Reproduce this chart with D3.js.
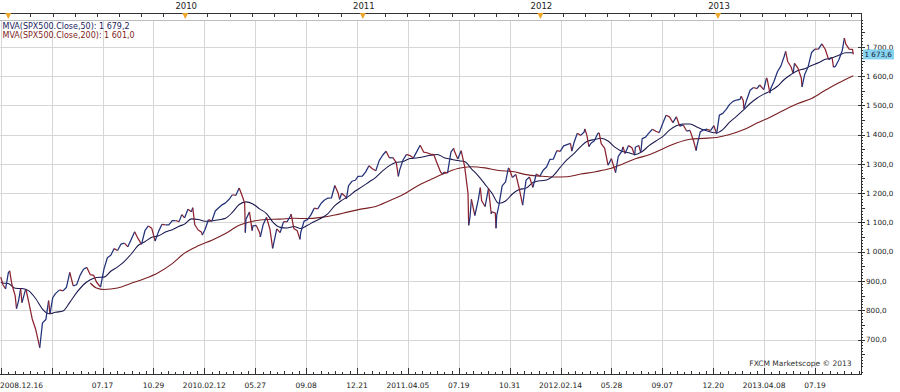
<!DOCTYPE html>
<html><head><meta charset="utf-8">
<script src="https://cdn.jsdelivr.net/npm/d3@7/dist/d3.min.js"></script>
<style>
body{margin:0;background:#fff;}
svg{display:block;font-family:"DejaVu Sans",Verdana,sans-serif;}
</style>
</head><body>
<svg id="chart" width="900" height="392"></svg>
<script>
// ---------------- DATA (SPX500 price) ----------------
const price2008 = [["12-16",913.2],["12-19",887.9],["12-26",872.8]];
const price2009 = [["01-02",927.5],["01-06",934.7],["01-09",890.4],["01-16",850.1],["01-20",805.2],["01-23",832.0],["01-28",874.1],["01-30",825.9],["02-06",868.6],["02-09",869.9],["02-13",826.8],["02-20",770.1],["02-27",735.1],["03-06",683.4],["03-09",672.0],["03-13",756.6],["03-20",768.5],["03-26",832.9],["03-30",787.5],["04-03",842.5],["04-09",856.6],["04-17",869.6],["04-24",866.2],["05-01",877.5],["05-08",929.2],["05-15",882.9],["05-22",887.0],["05-29",919.1],["06-05",940.1],["06-12",946.2],["06-19",921.2],["06-26",918.9],["07-02",896.4],["07-10",879.1],["07-17",940.4],["07-24",979.3],["07-31",987.5],["08-07",1010.5],["08-14",1004.1],["08-21",1026.1],["08-28",1028.9],["09-04",1016.4],["09-11",1042.7],["09-18",1068.3],["09-25",1044.4],["10-02",1025.2],["10-09",1071.5],["10-16",1087.7],["10-23",1079.6],["10-30",1036.2],["11-06",1069.3],["11-13",1093.5],["11-20",1091.4],["11-27",1091.5],["12-04",1106.0],["12-11",1106.4],["12-18",1102.5],["12-24",1126.5],["12-31",1115.1]];
const price2010 = [["01-08",1145.0],["01-15",1136.0],["01-19",1150.2],["01-22",1091.8],["01-29",1073.9],["02-05",1066.2],["02-08",1056.7],["02-12",1075.5],["02-19",1109.2],["02-26",1104.5],["03-05",1138.7],["03-12",1150.0],["03-19",1159.9],["03-26",1166.6],["04-02",1178.1],["04-09",1194.4],["04-16",1192.1],["04-23",1217.3],["04-30",1186.7],["05-05",1165.9],["05-06",1065.0],["05-07",1110.9],["05-14",1135.7],["05-20",1071.6],["05-21",1087.7],["05-28",1089.4],["06-04",1064.9],["06-07",1050.5],["06-11",1091.6],["06-18",1117.5],["06-25",1076.8],["07-01",1011.0],["07-02",1022.6],["07-09",1078.0],["07-16",1064.9],["07-23",1102.7],["07-30",1101.6],["08-06",1121.6],["08-09",1127.8],["08-13",1079.3],["08-20",1071.7],["08-26",1042.0],["08-27",1064.6],["09-03",1104.5],["09-10",1109.6],["09-17",1125.6],["09-24",1148.7],["10-01",1146.1],["10-08",1165.2],["10-15",1176.2],["10-22",1183.1],["10-29",1183.3],["11-05",1225.9],["11-12",1199.2],["11-16",1178.3],["11-19",1199.7],["11-26",1189.4],["11-30",1180.6],["12-03",1224.7],["12-10",1240.4],["12-17",1243.9],["12-23",1256.8],["12-31",1257.6]];
const price2011 = [["01-07",1271.5],["01-14",1293.2],["01-21",1283.4],["01-28",1276.3],["02-04",1310.9],["02-11",1329.2],["02-18",1343.0],["02-25",1319.9],["03-04",1321.2],["03-11",1304.3],["03-16",1256.9],["03-18",1279.2],["03-25",1313.8],["04-01",1332.4],["04-08",1328.2],["04-15",1319.7],["04-21",1337.4],["04-29",1363.6],["05-06",1340.2],["05-13",1337.8],["05-20",1333.3],["05-27",1331.1],["06-03",1300.2],["06-10",1271.0],["06-15",1265.4],["06-17",1271.5],["06-24",1268.5],["07-01",1339.7],["07-07",1353.2],["07-08",1343.8],["07-15",1316.1],["07-22",1345.0],["07-29",1292.3],["08-05",1199.4],["08-08",1090.0],["08-10",1120.8],["08-12",1178.8],["08-19",1123.5],["08-26",1176.8],["08-31",1218.9],["09-02",1174.0],["09-09",1154.2],["09-16",1216.0],["09-22",1129.6],["09-23",1136.4],["09-30",1131.4],["10-03",1080.0],["10-04",1123.9],["10-07",1155.5],["10-14",1224.6],["10-21",1238.3],["10-27",1284.6],["10-28",1285.1],["11-04",1253.2],["11-11",1263.9],["11-18",1215.7],["11-25",1158.7],["12-02",1244.3],["12-09",1255.2],["12-16",1219.7],["12-23",1265.3],["12-30",1257.6]];
const price2012 = [["01-06",1277.8],["01-13",1289.1],["01-20",1315.4],["01-27",1316.3],["02-03",1344.9],["02-10",1342.6],["02-17",1361.2],["02-24",1365.7],["03-02",1370.0],["03-06",1343.4],["03-09",1370.9],["03-16",1404.2],["03-23",1397.1],["03-30",1408.5],["04-02",1419.0],["04-05",1398.1],["04-10",1358.6],["04-13",1370.3],["04-20",1378.5],["04-27",1403.4],["05-01",1405.8],["05-04",1369.1],["05-11",1353.4],["05-18",1295.2],["05-25",1317.8],["06-01",1278.0],["06-04",1270.0],["06-08",1325.7],["06-15",1342.8],["06-19",1357.9],["06-22",1335.0],["06-29",1362.2],["07-06",1354.7],["07-12",1329.5],["07-13",1356.8],["07-20",1362.7],["07-25",1337.9],["07-27",1386.0],["08-03",1391.0],["08-10",1405.9],["08-17",1418.2],["08-24",1411.1],["08-31",1406.6],["09-07",1437.9],["09-14",1465.8],["09-21",1460.2],["09-28",1440.7],["10-05",1460.9],["10-12",1428.6],["10-19",1433.2],["10-26",1411.9],["11-02",1414.2],["11-09",1379.9],["11-15",1345.0],["11-16",1359.9],["11-23",1409.2],["11-30",1416.2],["12-07",1418.1],["12-14",1413.6],["12-21",1430.2],["12-28",1402.4]];
const price2013 = [["01-04",1466.5],["01-11",1472.1],["01-18",1486.0],["01-25",1503.0],["02-01",1513.2],["02-08",1517.9],["02-15",1519.8],["02-19",1530.9],["02-22",1515.6],["02-25",1487.9],["03-01",1518.2],["03-08",1551.2],["03-15",1560.7],["03-22",1556.9],["03-28",1569.2],["04-05",1553.3],["04-11",1593.4],["04-12",1588.9],["04-18",1541.6],["04-19",1555.3],["04-26",1582.2],["05-03",1614.4],["05-10",1633.7],["05-17",1667.5],["05-21",1684.0],["05-24",1649.6],["05-31",1630.7],["06-05",1608.9],["06-07",1643.4],["06-14",1626.7],["06-21",1592.4],["06-24",1563.0],["06-28",1606.3],["07-05",1631.9],["07-12",1680.2],["07-19",1692.1],["07-26",1691.7],["08-02",1709.7],["08-09",1691.4],["08-16",1655.8],["08-23",1663.5],["08-27",1630.5],["08-30",1633.0],["09-06",1655.2],["09-13",1688.0],["09-18",1729.0],["09-20",1709.9],["09-27",1691.8],["10-04",1690.5],["10-07",1673.6]];

// 50-period moving average (navy)
const ma50_2008 = [["12-16",895],["12-19",893]];
const ma50_2009 = [["01-02",891],["01-16",875],["01-30",874],["02-13",866],["02-27",840],["03-13",804],["03-27",788],["04-09",793],["04-24",797],["05-08",827],["05-22",860],["06-05",887],["06-19",904],["07-02",912],["07-17",913],["07-31",933],["08-14",948],["08-28",967],["09-11",992],["09-25",1021],["10-09",1034],["10-23",1049],["11-06",1054],["11-20",1067],["12-04",1075],["12-18",1087],["12-31",1094]];
const ma50_2010 = [["01-15",1112],["01-29",1110],["02-12",1104],["02-26",1105],["03-12",1109],["03-26",1114],["04-09",1134],["04-23",1161],["05-07",1170],["05-21",1163],["06-04",1146],["06-18",1130],["07-02",1099],["07-16",1083],["07-30",1081],["08-13",1086],["08-27",1079],["09-10",1090],["09-24",1103],["10-08",1114],["10-22",1130],["11-05",1157],["11-19",1175],["12-03",1189],["12-17",1207],["12-31",1222]];
const ma50_2011 = [["01-14",1238],["01-28",1254],["02-11",1276],["02-25",1294],["03-11",1305],["03-25",1308],["04-08",1318],["04-21",1320],["05-06",1324],["05-20",1329],["06-03",1332],["06-17",1321],["07-01",1316],["07-15",1311],["07-29",1308],["08-12",1283],["08-26",1259],["09-09",1230],["09-23",1200],["10-07",1165],["10-21",1173],["11-04",1197],["11-18",1212],["12-02",1217],["12-16",1236],["12-30",1242]];
const ma50_2012 = [["01-13",1245],["01-27",1260],["02-10",1288],["02-24",1314],["03-09",1335],["03-23",1359],["04-05",1376],["04-20",1383],["05-04",1387],["05-18",1378],["06-01",1357],["06-15",1343],["06-29",1338],["07-13",1332],["07-27",1342],["08-10",1362],["08-24",1378],["09-07",1393],["09-21",1415],["10-05",1430],["10-19",1436],["11-02",1436],["11-16",1426],["11-30",1416],["12-14",1409],["12-28",1406]];
const ma50_2013 = [["01-11",1417],["01-25",1442],["02-08",1462],["02-22",1483],["03-08",1506],["03-22",1524],["04-05",1538],["04-19",1549],["05-03",1565],["05-17",1588],["05-31",1605],["06-14",1619],["06-28",1625],["07-12",1636],["07-26",1645],["08-09",1657],["08-23",1662],["09-06",1671],["09-20",1679],["10-07",1679.2]];

// 200-period moving average (dark red)
const ma200_2009 = [["06-19",893],["07-02",876],["07-17",871],["08-14",876],["09-11",892],["10-09",908],["11-06",929],["12-04",959],["12-31",995]];
const ma200_2010 = [["01-29",1020],["02-26",1039],["03-26",1062],["04-23",1090],["05-21",1104],["06-18",1110],["07-16",1111],["08-13",1114],["09-10",1113],["10-08",1117],["11-05",1125],["12-03",1136],["12-31",1146]];
const ma200_2011 = [["01-28",1154],["02-25",1174],["03-25",1195],["04-21",1222],["05-20",1246],["06-17",1267],["07-15",1284],["08-12",1290],["09-09",1286],["10-07",1277],["11-04",1274],["12-02",1263],["12-30",1258]];
const ma200_2012 = [["01-27",1255],["02-24",1256],["03-23",1265],["04-20",1272],["05-18",1282],["06-15",1298],["07-13",1317],["08-10",1331],["09-07",1351],["10-05",1371],["11-02",1384],["11-30",1387],["12-28",1390]];
const ma200_2013 = [["01-25",1400],["02-22",1416],["03-22",1439],["04-19",1460],["05-17",1484],["06-14",1506],["07-12",1523],["08-09",1551],["09-06",1577],["10-07",1601]];

// axis texts
const bottomLabels = ["2008.12.16","","07.17","10.29","2010.02.12","05.27","09.08","12.21","2011.04.05","07.19","10.31","2012.02.14","05.28","09.07","12.20","2013.04.08","07.19"];
const bottomFirstDate = "2008-12-16", bottomLastDate = "2013-07-19";
const years = ["2009","2010","2011","2012","2013"];
const yearShown = [false,true,true,true,true];
const yTicks = [700,800,900,1000,1100,1200,1300,1400,1500,1600,1700];
const lastPrice = 1673.6;
const legendItems = [
  {text:"MVA(SPX500.Close,50): 1 679,2", color:"#1c1c5e"},
  {text:"MVA(SPX500.Close,200): 1 601,0", color:"#7e1d1d"}
];
const creditText = "FXCM Marketscope \u00A9 2013";

// ---------------- LAYOUT ----------------
const W = 900, H = 392;
const plot = {left:0, right:861, top:20, bottom:374};
const svg = d3.select("#chart");

// bar index (trading sessions: weekdays without Dec 25 / Jan 1)
const barOf = new Map();
(function(){
  let n = 0; const d = new Date(Date.UTC(2008,11,16)); const end = Date.UTC(2014,1,28);
  while (d.getTime() <= end) {
    const wd = d.getUTCDay(), m = d.getUTCMonth(), dd = d.getUTCDate();
    const hol = (m===11 && dd===25) || (m===0 && dd===1);
    if (wd!==0 && wd!==6 && !hol) { barOf.set(d.toISOString().slice(0,10), n); n++; }
    d.setUTCDate(d.getUTCDate()+1);
  }
})();
function toPts(year, arr){ return arr.map(([md,v]) => ({b: barOf.get(year+"-"+md), v})); }
const price = [].concat(toPts(2008,price2008),toPts(2009,price2009),toPts(2010,price2010),toPts(2011,price2011),toPts(2012,price2012),toPts(2013,price2013));
const ma50 = [].concat(toPts(2008,ma50_2008),toPts(2009,ma50_2009),toPts(2010,ma50_2010),toPts(2011,ma50_2011),toPts(2012,ma50_2012),toPts(2013,ma50_2013));
const ma200 = [].concat(toPts(2009,ma200_2009),toPts(2010,ma200_2010),toPts(2011,ma200_2011),toPts(2012,ma200_2012),toPts(2013,ma200_2013));

const x = d3.scaleLinear().domain([barOf.get(bottomFirstDate), barOf.get(bottomLastDate)]).range([0.8, 815]);
const y = d3.scaleLinear().domain([700,1700]).range([339.5, 46.7]);
const gx = d3.scaleLinear().domain([0, bottomLabels.length-1]).range([x(barOf.get(bottomFirstDate)), x(barOf.get(bottomLastDate))]);

svg.append("rect").attr("width",W).attr("height",H).attr("fill","#fff");

// grid
const grid = svg.append("g").attr("stroke","#d6d6d6").attr("stroke-width",1).attr("shape-rendering","crispEdges");
yTicks.forEach(t => grid.append("line").attr("x1",plot.left).attr("x2",plot.right).attr("y1",Math.round(y(t))+0.5).attr("y2",Math.round(y(t))+0.5));
d3.range(bottomLabels.length).forEach(i => grid.append("line").attr("x1",Math.round(gx(i))+0.5).attr("x2",Math.round(gx(i))+0.5).attr("y1",plot.top).attr("y2",plot.bottom));
// plot top border
svg.append("line").attr("x1",0).attr("x2",plot.right).attr("y1",plot.top+0.5).attr("y2",plot.top+0.5).attr("stroke","#bdbdbd").attr("shape-rendering","crispEdges");

// clip
svg.append("clipPath").attr("id","clip").append("rect").attr("x",plot.left).attr("y",plot.top).attr("width",plot.right-plot.left).attr("height",plot.bottom-plot.top);
const area = svg.append("g").attr("clip-path","url(#clip)");

// moving averages
const maLine = d3.line().x(d=>x(d.b)).y(d=>y(d.v)).curve(d3.curveMonotoneX);
area.append("path").datum(ma200).attr("d",maLine).attr("fill","none").attr("stroke","#7a1f22").attr("stroke-width",1.1);
area.append("path").datum(ma50).attr("d",maLine).attr("fill","none").attr("stroke","#18184f").attr("stroke-width",1.05);

// price: segments coloured by direction
const runs = [];
for (let i=1;i<price.length;i++){
  const up = price[i].v >= price[i-1].v;
  if (runs.length && runs[runs.length-1].up === up) runs[runs.length-1].pts.push(price[i]);
  else runs.push({up, pts:[price[i-1], price[i]]});
}
const pLine = d3.line().x(d=>x(d.b)).y(d=>y(d.v));
area.selectAll("path.px").data(runs).join("path").attr("class","px")
  .attr("d", r=>pLine(r.pts)).attr("fill","none")
  .attr("stroke", r=> r.up ? "#22327a" : "#8c2230").attr("stroke-width",1.25).attr("stroke-linejoin","round");

// ---------------- AXES ----------------
// right axis
const ra = svg.append("g").attr("transform",`translate(${plot.right},0)`);
ra.append("line").attr("x1",0.5).attr("x2",0.5).attr("y1",13).attr("y2",plot.bottom).attr("stroke","#333").attr("shape-rendering","crispEdges");
const minorVals = d3.range(590,1791,10).filter(v=>v%100!==0);
ra.append("g").call(d3.axisRight(y).tickValues(minorVals.filter(v=>v%50!==0)).tickSize(2).tickFormat("")).call(g=>g.select(".domain").remove());
ra.append("g").call(d3.axisRight(y).tickValues(minorVals.filter(v=>v%50===0)).tickSize(3.5).tickFormat("")).call(g=>g.select(".domain").remove());
const locale = d3.formatLocale({decimal:",", thousands:"\u00A0", grouping:[3], currency:["",""]});
const fmt = locale.format(",.1f");
ra.append("g").call(d3.axisRight(y).tickValues(yTicks).tickSize(4).tickPadding(1).tickFormat(v=>fmt(v).replace("\u00A0"," ")))
  .call(g=>g.select(".domain").remove())
  .call(g=>g.selectAll("text").attr("font-size",7.2).attr("fill","#222").attr("font-family","DejaVu Sans, Verdana, sans-serif"));
ra.append("g").call(d3.axisLeft(y).tickValues(yTicks).tickSize(3).tickFormat("")).call(g=>g.select(".domain").remove());
ra.selectAll("line").attr("stroke","#333").attr("shape-rendering","crispEdges");
// current price badge
const ly = y(lastPrice);
ra.append("rect").attr("x",2).attr("y",ly-5).attr("width",31).attr("height",10).attr("fill","#86d4f0");
ra.append("text").attr("x",3.5).attr("y",ly).attr("dy","0.33em").attr("font-size",7.2).attr("fill","#1a1a3a").text(fmt(lastPrice).replace("\u00A0"," "));

// bottom axis
const ba = svg.append("g").attr("transform",`translate(0,${plot.bottom})`);
ba.append("line").attr("x1",0).attr("x2",plot.right+1).attr("y1",0.5).attr("y2",0.5).attr("stroke","#333").attr("shape-rendering","crispEdges");
const subVals = [];
d3.range(bottomLabels.length+1).forEach(i=>{ for(let k=1;k<7;k++){ const v=i+k/7; if (gx(v) < plot.right) subVals.push(v);} });
ba.append("g").call(d3.axisTop(gx).tickValues(subVals.filter((v,j)=>j%2===0)).tickSize(2).tickFormat("")).call(g=>g.select(".domain").remove());
ba.append("g").call(d3.axisTop(gx).tickValues(subVals.filter((v,j)=>j%2===1)).tickSize(3.5).tickFormat("")).call(g=>g.select(".domain").remove());
ba.append("g").call(d3.axisTop(gx).tickValues(d3.range(bottomLabels.length)).tickSize(6).tickFormat("")).call(g=>g.select(".domain").remove());
ba.selectAll("line").attr("stroke","#333").attr("shape-rendering","crispEdges");
ba.selectAll("text.bl").data(bottomLabels).join("text").attr("class","bl")
  .attr("x",(d,i)=> i===0 ? 0 : gx(i)).attr("y",14)
  .attr("text-anchor",(d,i)=> i===0 ? "start" : "middle")
  .attr("font-size",7.5).attr("fill","#222").text(d=>d);

// top axis (years)
const ta = svg.append("g");
ta.append("line").attr("x1",0).attr("x2",plot.right+1).attr("y1",13.5).attr("y2",13.5).attr("stroke","#333").attr("shape-rendering","crispEdges");
const yearBars = years.map(yr => { let b=Infinity; barOf.forEach((v,k)=>{ if(k.startsWith(yr) && v<b) b=v; }); return b; });
const topTicks = [];
for (let i=0;i<yearBars.length;i++){
  const step = (i < yearBars.length-1 ? yearBars[i+1]-yearBars[i] : yearBars[i]-yearBars[i-1]) / 8;
  for (let k=1;k<8*(i<yearBars.length-1?1:3);k++){ const b = yearBars[i]+k*step; if (x(b) < plot.right) topTicks.push(b); }
}
ta.append("g").attr("transform","translate(0,13)").call(d3.axisBottom(x).tickValues(topTicks).tickSize(3.5).tickFormat(""))
  .call(g=>g.select(".domain").remove()).call(g=>g.selectAll("line").attr("stroke","#333").attr("shape-rendering","crispEdges"));
yearBars.forEach((b,i)=>{
  const px = x(b);
  ta.append("path").attr("d",`M${px-3},13 L${px+3},13 L${px},19 Z`).attr("fill","#eda52a");
  if (yearShown[i]) ta.append("text").attr("x",px+1).attr("y",9).attr("text-anchor","middle").attr("font-size",8.5).attr("fill","#222").text(years[i]);
});

// legend
legendItems.forEach((d,i)=> svg.append("text").attr("x",2.5).attr("y",29+i*8.7).attr("font-size",8).attr("fill",d.color).text(d.text));

// credit
svg.append("text").attr("x",851.5).attr("y",366).attr("text-anchor","end").attr("font-size",7.5).attr("fill","#333").text(creditText);
</script>
</body></html>
